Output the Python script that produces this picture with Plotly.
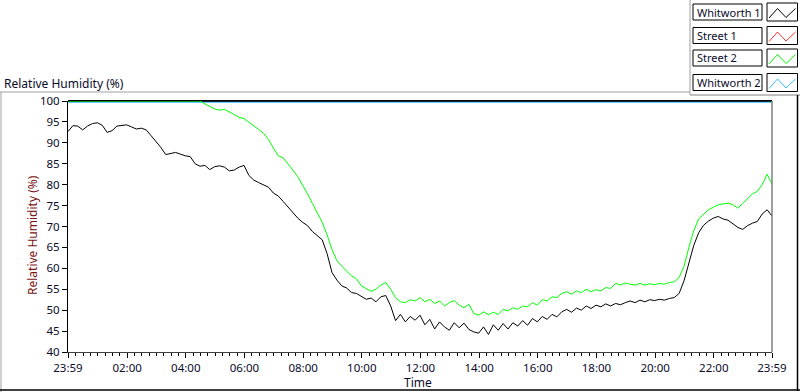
import plotly.graph_objects as go

# ---- data (minutes after 23:59, 10-minute steps) ----
minutes = [i * 10 for i in range(145)]

whitworth1 = [
    92.7, 94.1, 94.0, 93.1, 94.0, 94.6, 94.8, 94.2, 92.5, 92.9,
    94.0, 94.2, 94.3, 93.8, 93.3, 93.5, 93.1, 91.7, 90.4, 88.9,
    87.2, 87.5, 87.7, 87.3, 86.9, 86.7, 85.0, 84.4, 84.6, 83.6,
    84.3, 84.5, 84.2, 83.3, 83.5, 84.2, 84.6, 82.2, 81.1, 80.5,
    80.0, 79.4, 78.0, 77.3, 76.0, 74.6, 73.2, 72.0, 71.0, 70.2,
    68.8, 67.7, 66.8, 63.5, 59.0, 57.2, 55.8, 55.3, 54.2, 54.0,
    53.2, 52.6, 52.9, 52.0, 53.2, 53.5, 51.0, 47.5, 49.0, 47.2,
    48.5, 47.6, 48.8, 46.5, 47.8, 45.5, 47.2, 46.0, 45.2, 47.0,
    45.8, 46.9, 45.4, 44.8, 44.5, 46.0, 44.2, 46.5, 45.2, 46.8,
    45.5, 47.0, 46.2, 47.5, 46.4, 48.0, 47.2, 48.5, 47.8, 49.0,
    48.4, 49.6, 50.2, 49.5, 50.5, 50.0, 51.0, 50.4, 51.2, 50.8,
    51.5, 51.0, 51.6, 51.3, 51.8, 52.2, 51.8, 52.4, 52.0, 52.5,
    52.3, 52.6, 52.4, 52.8, 53.0, 54.0, 57.0, 61.0, 65.5, 68.5,
    70.3, 71.3, 72.0, 72.4, 71.8, 71.5, 70.6, 69.8, 69.3, 70.2,
    70.8, 71.2, 73.0, 74.0, 72.5,
]

street2 = [
    100, 100, 100, 100, 100, 100, 100, 100, 100, 100,
    100, 100, 100, 100, 100, 100, 100, 100, 100, 100,
    100, 100, 100, 100, 100, 100, 100, 100, 99.3, 98.7,
    98.1, 97.8, 98.0, 97.4, 96.7, 96.1, 95.8, 95.0, 94.0, 93.2,
    92.3, 90.8, 88.8, 86.9, 86.4, 85.0, 83.5, 81.9, 80.0, 77.8,
    75.5, 73.4, 71.0, 68.0, 64.5, 61.8, 60.5, 59.3, 58.2, 57.5,
    55.8, 55.2, 54.5, 55.0, 56.0, 56.6, 55.0, 53.0, 52.0, 51.8,
    52.5, 52.2, 53.0, 52.0, 52.6, 51.6, 52.2, 51.0, 51.8, 52.3,
    51.2, 50.6, 51.4, 49.2, 48.8, 49.6, 48.9, 49.5, 49.0, 50.2,
    49.8, 50.6, 50.2, 51.0, 50.8, 51.8, 51.2, 52.5, 52.2, 53.2,
    53.0, 54.0, 54.4, 53.8, 54.6, 54.2, 55.0, 54.4, 54.9, 54.6,
    55.4, 55.2, 56.4, 56.0, 56.5, 56.2, 56.0, 56.4, 56.0, 56.3,
    56.1, 56.4, 56.2, 56.6, 56.8, 57.8, 60.5, 65.0, 69.0, 71.8,
    73.0, 74.0, 74.6, 75.2, 75.4, 75.6, 75.2, 74.4, 75.5, 76.6,
    77.8, 78.4, 80.0, 82.5, 80.2,
]

street1_t = []
street1 = []

whitworth2_t = [0, 1440]
whitworth2 = [99.7, 99.7]

tick_vals = [0, 121, 241, 361, 481, 601, 721, 841, 961, 1081, 1201, 1321, 1440]
tick_text = ["23:59", "02:00", "04:00", "06:00", "08:00", "10:00", "12:00",
             "14:00", "16:00", "18:00", "20:00", "22:00", "23:59"]
minor_vals = [1 + 15 * k for k in range(96) if (1 + 15 * k) not in tick_vals]

series_names = ["Whitworth 1", "Street 1", "Street 2", "Whitworth 2"]
series_colors = ["#000000", "#ff3030", "#00ff00", "#33bbff"]

# ---- figure ----
W, H = 800, 392
L, R, T, B = 68, 772, 101, 352
FONT = "Noto Sans"


def X(p):
    return (p - L) / (R - L)


def Y(p):
    return (B - p) / (B - T)


fig = go.Figure()
fig.add_trace(go.Scatter(x=minutes, y=whitworth1, mode="lines",
                         line=dict(color=series_colors[0], width=1),
                         name=series_names[0], showlegend=False))
fig.add_trace(go.Scatter(x=street1_t, y=street1, mode="lines",
                         line=dict(color=series_colors[1], width=1),
                         name=series_names[1], showlegend=False))
fig.add_trace(go.Scatter(x=whitworth2_t, y=whitworth2, mode="lines",
                         line=dict(color=series_colors[3], width=1),
                         name=series_names[3], showlegend=False))
fig.add_trace(go.Scatter(x=minutes, y=street2, mode="lines",
                         line=dict(color=series_colors[2], width=1),
                         name=series_names[2], showlegend=False))

shapes = []
line_gray = "#a0a0a0"
# outer frame
shapes.append(dict(type="line", xref="paper", yref="paper", x0=X(0), x1=X(690), y0=Y(92), y1=Y(92),
                   line=dict(color=line_gray, width=1)))
shapes.append(dict(type="line", xref="paper", yref="paper", x0=X(690), x1=X(690), y0=Y(0), y1=Y(95),
                   line=dict(color=line_gray, width=1)))
shapes.append(dict(type="line", xref="paper", yref="paper", x0=X(690), x1=X(800), y0=Y(95), y1=Y(95),
                   line=dict(color="#808080", width=1)))
shapes.append(dict(type="line", xref="paper", yref="paper", x0=X(1), x1=X(1), y0=Y(92), y1=Y(392),
                   line=dict(color=line_gray, width=1)))
shapes.append(dict(type="line", xref="paper", yref="paper", x0=X(0), x1=X(800), y0=Y(390), y1=Y(390),
                   line=dict(color="#000000", width=1.5)))
shapes.append(dict(type="line", xref="paper", yref="paper", x0=X(797.5), x1=X(797.5), y0=Y(95), y1=Y(391),
                   line=dict(color="#000000", width=1.5)))
# plot border top (black) and right (gray)
shapes.append(dict(type="line", xref="paper", yref="paper", x0=0, x1=1, y0=1, y1=1, layer="below",
                   line=dict(color="#000000", width=2)))
shapes.append(dict(type="line", xref="paper", yref="paper", x0=1, x1=1, y0=0, y1=1,
                   line=dict(color="#808080", width=1.5)))

annotations = []
# legend boxes
centers = [12, 35.5, 58, 82.5]
for name, col, c in zip(series_names, series_colors, centers):
    shapes.append(dict(type="rect", xref="paper", yref="paper",
                       x0=X(693), x1=X(762), y0=Y(c - 8), y1=Y(c + 8),
                       line=dict(color="#000000", width=1), fillcolor="white"))
    shapes.append(dict(type="rect", xref="paper", yref="paper",
                       x0=X(767), x1=X(797.5), y0=Y(c - 9), y1=Y(c + 9),
                       line=dict(color="#000000", width=1), fillcolor="white"))
    path = "M {} {} L {} {} L {} {} L {} {}".format(
        X(769), Y(c + 6), X(777.5), Y(c - 3.5), X(786), Y(c + 5.5), X(795.5), Y(c - 3.5))
    shapes.append(dict(type="path", xref="paper", yref="paper", path=path,
                       line=dict(color=col, width=1)))
    annotations.append(dict(xref="paper", yref="paper", x=X(694.5), y=Y(c), xanchor="left",
                            yanchor="middle", text=name, showarrow=False,
                            font=dict(family=FONT, size=11, color="#0a0a2a")))

annotations.append(dict(xref="paper", yref="paper", x=X(2), y=Y(83), xanchor="left",
                        yanchor="middle", text="Relative Humidity (%)", showarrow=False,
                        font=dict(family=FONT, size=12, color="#0a0a2a")))
annotations.append(dict(xref="paper", yref="paper", x=X(32), y=Y(235), xanchor="center",
                        yanchor="middle", text="Relative Humidity (%)", showarrow=False,
                        textangle=-90, font=dict(family=FONT, size=12, color="#7a1515")))
annotations.append(dict(xref="paper", yref="paper", x=X(418), y=Y(382), xanchor="center",
                        yanchor="middle", text="Time", showarrow=False,
                        font=dict(family=FONT, size=12, color="#0a0a2a")))

fig.update_layout(
    width=W, height=H,
    margin=dict(l=L, r=W - R, t=T, b=H - B, pad=0),
    paper_bgcolor="white", plot_bgcolor="white",
    showlegend=False, hovermode=False,
    shapes=shapes, annotations=annotations,
    font=dict(family=FONT, size=12, color="#0a0a2a"),
)
fig.update_xaxes(range=[0, 1440], tickmode="array", tickvals=tick_vals, ticktext=tick_text,
                 ticks="outside", ticklen=5, tickcolor="#000000", showgrid=False, zeroline=False,
                 showline=True, linecolor="#404040", linewidth=1,
                 tickfont=dict(family=FONT, size=11.5, color="#0a0a2a"),
                 minor=dict(tickvals=minor_vals, ticks="outside", ticklen=3, tickcolor="#000000",
                            showgrid=False))
fig.update_yaxes(range=[40, 100], tickmode="array", tickvals=list(range(40, 101, 5)),
                 ticks="outside", ticklen=5, tickcolor="#000000", showgrid=False, zeroline=False,
                 showline=True, linecolor="#000000", linewidth=1,
                 tickfont=dict(family=FONT, size=11.5, color="#0a0a2a"))

fig.write_html("out.html", config={"displayModeBar": False},
               post_script="document.body.style.margin='0';document.body.style.overflow='hidden';")
